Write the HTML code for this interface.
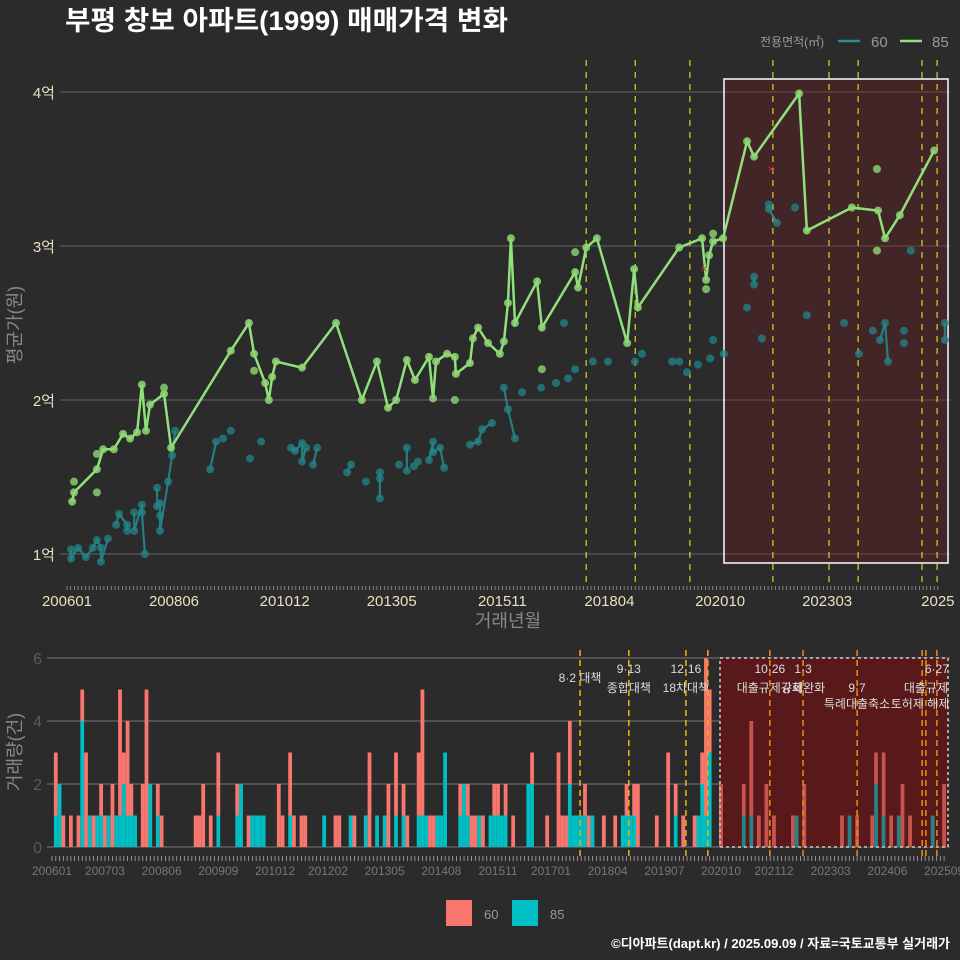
<!DOCTYPE html>
<html><head><meta charset="utf-8">
<style>
html,body{margin:0;padding:0;background:#2b2b2b;}
svg{display:block;font-family:"Liberation Sans","Noto Sans CJK KR",sans-serif;}
</style></head>
<body>
<svg id="c" width="960" height="960" viewBox="0 0 960 960">
<rect width="960" height="960" fill="#2b2b2b"/>
<text x="65" y="30" fill="#fff" font-size="27" font-weight="bold" textLength="443" lengthAdjust="spacingAndGlyphs">부평 창보 아파트(1999) 매매가격 변화</text>
<g>
<text x="760" y="46" fill="#999" font-size="12">전용면적(㎡)</text>
<line x1="838" y1="41" x2="860" y2="41" stroke="#2a8f92" stroke-width="2.5"/>
<text x="871" y="47" fill="#999" font-size="15">60</text>
<line x1="900" y1="41" x2="922" y2="41" stroke="#90e07c" stroke-width="2.5"/>
<text x="932" y="47" fill="#999" font-size="15">85</text>
</g>
<g id="topg"></g>
<g id="botg"></g>
<text transform="translate(21,325) rotate(-90)" text-anchor="middle" fill="#888" font-size="18">평균가(원)</text>
<text x="508" y="627" text-anchor="middle" fill="#888" font-size="18">거래년월</text>
<text transform="translate(21,752) rotate(-90)" text-anchor="middle" fill="#888" font-size="18">거래량(건)</text>
<g>
<rect x="446" y="900" width="26" height="26" fill="#f8766d"/>
<text x="484" y="919" fill="#999" font-size="13">60</text>
<rect x="512" y="900" width="26" height="26" fill="#00bfc4"/>
<text x="550" y="919" fill="#999" font-size="13">85</text>
</g>
<text x="950" y="948" text-anchor="end" fill="#fff" font-size="13" font-weight="bold">©디아파트(dapt.kr) / 2025.09.09 / 자료=국토교통부 실거래가</text>
</svg>
<script>
// ---- data (month index from 2006-01, price in 억) ----
const line85M=[1.4,1.9,8.1,9.8,12.7,15.2,17.1,19.0,20.3,21.4,22.5,26.3,28.2,44.4,49.3,50.7,53.7,54.7,55.6,56.6,63.7,72.9,79.9,84.0,87.0,89.2,92.1,94.3,98.1,99.2,100.0,103.0,105.1,105.4,109.2,110.0,111.4,114.1,117.3,118.4,119.5,120.3,121.4,127.4,128.7,137.7,138.5,140.7,143.6,151.8,153.7,154.7,165.9,172.1,173.2,174.0,175.1,177.8,184.3,186.2,198.4,200.5,212.7,219.8,221.7,225.7,235.0];
const line85V=[1.34,1.40,1.55,1.68,1.68,1.78,1.75,1.79,2.10,1.80,1.97,2.04,1.69,2.32,2.50,2.30,2.11,2.00,2.15,2.25,2.21,2.50,2.00,2.25,1.95,2.00,2.26,2.13,2.28,2.01,2.25,2.30,2.28,2.17,2.24,2.40,2.47,2.37,2.30,2.38,2.63,3.05,2.50,2.77,2.47,2.83,2.73,2.99,3.05,2.37,2.85,2.60,2.99,3.05,2.78,2.94,3.03,3.05,3.68,3.58,3.99,3.10,3.25,3.23,3.05,3.20,3.62];
const pts85M=[8.1,8.1,1.9,26.3,50.7,105.1,128.7,137.7,173.2,175.1,219.5,219.5];
const pts85V=[1.65,1.40,1.47,2.08,2.19,2.00,2.20,2.96,2.72,3.08,3.50,2.97];
const p60M=[1.1,1.1,3.0,5.1,7.0,8.1,9.2,9.2,11.1,13.3,14.1,16.3,16.3,18.2,18.2,20.3,20.3,21.1,24.4,24.4,25.2,25.2,25.2,27.4,28.5,29.3,38.8,40.4,42.3,44.4,49.6,52.6,60.7,61.8,63.7,63.7,64.8,66.7,67.8,75.9,77.0,81.0,84.8,84.8,84.8,90.0,92.1,92.1,94.0,95.1,98.1,99.2,99.2,101.1,102.2,109.2,111.4,112.5,115.2,118.4,119.5,121.4,123.3,128.5,132.5,134.7,135.8,137.7,142.5,146.6,153.9,155.8,164.0,165.9,168.0,171.0,174.3,175.1,178.0,184.3,186.2,186.2,188.3,190.2,190.2,192.4,197.3,200.5,210.6,214.6,218.4,220.3,221.7,222.5,226.8,226.8,228.7,237.9,237.9];
const p60V=[1.03,0.97,1.04,0.98,1.04,1.09,1.04,0.95,1.10,1.19,1.26,1.19,1.15,1.27,1.15,1.32,1.27,1.00,1.43,1.31,1.33,1.25,1.15,1.47,1.64,1.80,1.55,1.73,1.75,1.80,1.62,1.73,1.69,1.67,1.72,1.60,1.69,1.58,1.69,1.53,1.58,1.47,1.53,1.49,1.36,1.58,1.69,1.54,1.57,1.60,1.61,1.73,1.66,1.69,1.56,1.71,1.73,1.81,1.85,2.08,1.94,1.75,2.05,2.08,2.11,2.50,2.14,2.20,2.25,2.25,2.25,2.30,2.25,2.25,2.18,2.23,2.27,2.39,2.30,2.60,2.80,2.75,2.40,3.27,3.24,3.15,3.25,2.55,2.50,2.30,2.45,2.39,2.50,2.25,2.45,2.37,2.97,2.50,2.39];
const p60G=[1,1,1,1,1,1,1,1,1,2,2,2,2,3,3,3,3,3,4,4,4,4,4,4,4,4,5,5,6,7,8,9,10,10,10,10,10,11,11,12,12,13,14,14,14,15,16,16,17,18,19,19,19,19,19,20,20,20,20,21,21,21,22,23,24,25,26,27,28,29,30,31,32,33,34,35,36,37,38,39,40,40,41,42,42,42,43,44,45,46,47,48,48,48,49,50,51,52,52];
const crossM=[190.8,172.6];
const crossV=[3.50,2.85];
const topTickLabels=["200601","200806","201012","201305","201511","201804","202010","202303","2025"];
const topTickMonths=[0,29,59,88,118,147,177,206,236];
const yTickVals=[1,2,3,4];
const yTickLabels=["1억","2억","3억","4억"];
const policyTop=[140.7,154,168.8,191.3,206.5,214.4,231.7,235.8];
// volume
const barM=[1,2,3,5,7,8,9,10,11,12,13,14,15,16,17,18,19,20,21,22,24,25,26,28,29,38,39,40,42,44,49,50,52,53,54,55,56,60,61,63,64,66,67,72,75,76,79,80,83,84,86,88,89,91,93,94,97,98,99,100,101,102,103,104,108,109,110,111,112,113,114,116,117,118,119,120,122,126,127,131,134,135,136,137,138,139,140,141,142,143,146,149,151,152,153,154,155,160,163,165,167,170,171,172,173,174,177,183,185,187,189,191,196,197,199,209,211,213,217,218,220,222,224,225,227,233,236];
const cnt60=[2,0,1,1,1,1,3,0,1,0,1,1,0,2,0,4,1,3,1,0,2,5,0,1,1,1,1,2,1,2,1,0,1,0,0,0,0,2,1,2,1,1,1,0,1,1,0,1,0,3,0,0,2,2,1,1,2,4,0,1,1,0,0,0,1,0,1,1,1,0,1,0,1,1,0,1,1,0,1,1,3,1,1,2,0,0,0,1,1,0,1,1,0,1,0,1,2,1,3,1,1,1,0,1,5,2,2,1,3,1,2,1,1,0,2,1,0,1,1,1,2,1,0,2,1,0,2];
const cnt85=[1,2,0,0,0,4,0,1,0,1,1,0,1,0,1,1,2,1,1,1,0,0,2,1,0,0,0,0,0,1,1,2,0,1,1,1,1,0,0,1,0,0,0,1,0,0,1,0,1,0,1,1,0,1,1,0,1,1,1,0,0,1,1,3,1,2,1,0,0,1,0,1,1,1,1,1,0,2,2,0,0,0,0,2,1,1,1,1,0,1,0,0,1,1,1,1,0,0,0,1,0,0,1,2,1,3,0,1,1,0,0,0,0,1,0,0,1,0,0,2,1,0,1,0,0,1,0];
const botTickLabels=["200601","200703","200806","200909","201012","201202","201305","201408","201511","201701","201804","201907","202010","202112","202303","202406","202509"];
const botTickMonths=[0,14,29,44,59,73,88,103,118,132,147,162,177,191,206,221,236];
const botYTicks=[0,2,4,6];
const policyBot=[139.7,152.6,167.7,173.5,189.9,198.7,213,230.2,231.2,234.1];
const policyTop1=["8·2 대책","9·13","12·16","","10·26","1·3","","","","6·27"];
const policyTop2=["","종합대책","18차대책","","대출규제강화","규제완화","","","",""];

const NS="http://www.w3.org/2000/svg";
function mk(parent,tag,attrs){const e=document.createElementNS(NS,tag);for(const k in attrs)e.setAttribute(k,attrs[k]);parent.appendChild(e);return e;}
const topG=document.getElementById('topg'), botG=document.getElementById('botg');
const tx=m=>67+3.69*m, ty=v=>554-(v-1)*154;
const bx=m=>52+3.78*m, by=n=>847-n*31.5;

yTickVals.forEach((v,i)=>{
 const l=mk(topG,'line',{x1:60,x2:950,y1:ty(v),y2:ty(v),stroke:'#666','stroke-width':1});
 
 
 const t=mk(topG,'text',{x:55,y:ty(v)+6,'text-anchor':'end',fill:'#e8e0c0','font-size':15});
 t.textContent=yTickLabels[i];
 
 
});
const r1=mk(topG,'rect',{x:724,y:79,width:224,height:484,fill:'rgba(110,25,30,0.35)',stroke:'#fff','stroke-width':1.5});


policyTop.forEach(m=>{
 const l=mk(topG,'line',{x1:tx(m),x2:tx(m),y1:60,y2:588,stroke:'#d8d820','stroke-width':1.2,'stroke-dasharray':'6,6'});
 
 
});
for(let m=0;m<=236;m++){
 const l=mk(topG,'line',{x1:tx(m),x2:tx(m),y1:586,y2:590,stroke:'#999','stroke-width':0.8});
 
 
}
topTickLabels.forEach((s,i)=>{
 const t=mk(topG,'text',{x:tx(topTickMonths[i]),y:606,'text-anchor':'middle',fill:'#e8e0c0','font-size':15});
 t.textContent=s;
 
 
});
let cur=[],curG=null;
function flush(){if(cur.length>1){const p=mk(topG,'polyline',{points:cur.join(' '),fill:'none',stroke:'#23868a','stroke-width':2.2,opacity:0.9});
 
 }cur=[];}
p60M.forEach((m,i)=>{const g=(p60G[i]===undefined)?('x'+i):p60G[i];if(g!==curG){flush();curG=g;}cur.push(tx(m)+','+ty(p60V[i]));});flush();
p60M.forEach((m,i)=>{
 const c=mk(topG,'circle',{cx:tx(m),cy:ty(p60V[i]),r:4,fill:'#23868a',opacity:0.75});
 
 
});
const pl=mk(topG,'polyline',{points:line85M.map((m,i)=>tx(m)+','+ty(line85V[i])).join(' '),fill:'none',stroke:'#90e07c','stroke-width':2.5});


line85M.forEach((m,i)=>{
 const c=mk(topG,'circle',{cx:tx(m),cy:ty(line85V[i]),r:4,fill:'#8fd874',opacity:0.85});
 
 
});
pts85M.forEach((m,i)=>{
 const c=mk(topG,'circle',{cx:tx(m),cy:ty(pts85V[i]),r:4,fill:'#8fd874',opacity:0.8});
 
 
});
crossM.forEach((m,i)=>{
 const t=mk(topG,'text',{x:tx(m),y:ty(crossV[i])+4,'text-anchor':'middle',fill:'#e02020','font-size':12});
 t.textContent='×';
 
 
});

botYTicks.forEach(v=>{
 const l=mk(botG,'line',{x1:47,x2:950,y1:by(v),y2:by(v),stroke:'#777','stroke-width':1});
 
 
 const t=mk(botG,'text',{x:42,y:by(v)+6,'text-anchor':'end',fill:'#5a5a5a','font-size':16});
 t.textContent=v;
 
 
});
const r2=mk(botG,'rect',{x:720,y:658,width:228,height:189,fill:'#4f1c1e'});


barM.forEach((m,i)=>{
 const x=bx(m)-1.9;
 const a=cnt85[i]||0, b=cnt60[i]||0;
 if(a>0){const r=mk(botG,'rect',{x:x,y:by(a),width:3.78,height:a*31.5,fill:'#00bfc4'});
  
  }
 if(b>0){const r=mk(botG,'rect',{x:x,y:by(a+b),width:3.78,height:b*31.5,fill:'#f8766d'});
  
  }
});
const r3=mk(botG,'rect',{x:720,y:658,width:228,height:189,fill:'rgba(110,20,20,0.35)',stroke:'#ccc','stroke-width':1.5,'stroke-dasharray':'3,3'});


policyBot.forEach((m,i)=>{
 const l=mk(botG,'line',{x1:bx(m),x2:bx(m),y1:650,y2:858,stroke:(m>175?'#e08a10':'#e0b010'),'stroke-width':1.6,'stroke-dasharray':'6,4'});
 
 
 if(policyTop1[i]){const t=mk(botG,'text',{x:bx(m),y:(i===0?682:673),'text-anchor':'middle',fill:'#ddd','font-size':12});
  t.textContent=policyTop1[i];
  
  }
 if(policyTop2[i]){const t=mk(botG,'text',{x:bx(m),y:692,'text-anchor':'middle',fill:'#ddd','font-size':12});
  t.textContent=policyTop2[i];
  
  }
});
[["9·7",857,692],["특례대출축소",857,708],["토허제 해제",920,708],["대출규제",948,692]].forEach(a=>{
 const t=mk(botG,'text',{x:a[1],y:a[2],'text-anchor':a[0]==="대출규제"?'end':'middle',fill:'#ddd','font-size':12});
 t.textContent=a[0];
 
 
});
for(let m=0;m<=236;m++){
 const l=mk(botG,'line',{x1:bx(m),x2:bx(m),y1:856,y2:861,stroke:'#aaa','stroke-width':0.8});
 
 
}
botTickLabels.forEach((s,i)=>{
 const t=mk(botG,'text',{x:bx(botTickMonths[i]),y:875,'text-anchor':'middle',fill:'#777','font-size':12});
 t.textContent=s;
 
 
});
</script>
</body></html>
